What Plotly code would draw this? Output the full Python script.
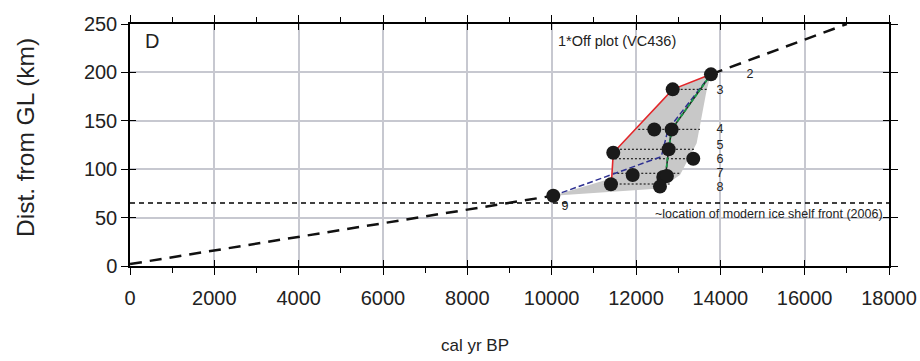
import plotly.graph_objects as go

# ---- data ----
pt_x = [13778, 12870, 12433, 12845, 12774, 11461, 13358, 11921, 12647, 12734, 11406, 12568, 10038]
pt_y = [198, 182.5, 141, 141, 120.6, 117, 110.8, 94, 92, 93, 84.4, 82, 72.6]

hull_x = [10038, 12568, 13043, 13438, 13676, 13778, 12870, 11461, 11423, 10038]
hull_y = [72.6, 80, 94, 126.8, 181.8, 198, 182.5, 117, 90.6, 72.6]

red_x = [13778, 12870, 11461, 11423]
red_y = [198, 182.5, 117, 90]

green_x = [13778, 12845, 12774, 12680]
green_y = [198, 141, 120.6, 85]

blue_x = [10038, 12600, 12760, 13778]
blue_y = [72.6, 113, 141, 198]

trend_lo_x = [0, 10038]
trend_lo_y = [2, 72.6]
trend_hi_x = [13778, 17000]
trend_hi_y = [198, 250]

level_y = [182.5, 141.2, 120.6, 110.8, 95.8, 84.7]
level_x0 = [12870, 12054, 11620, 11501, 11461, 11423]
level_x1 = [13676, 13517, 13399, 13232, 13043, 12805]

label_txt = ["2", "3", "4", "5", "6", "7", "8", "9"]
label_x = [14703, 13991, 13991, 13991, 13991, 13991, 13991, 10315]
label_y = [197, 181, 140.5, 124.5, 110, 95.5, 81, 61]

shelf_y = 65

x_ticks = [0, 2000, 4000, 6000, 8000, 10000, 12000, 14000, 16000, 18000]
x_ticktext = ["0", "2000", "4000", "6000", "8000", "10000", "12000", "14000", "16000", "18000"]
y_ticks = [0, 50, 100, 150, 200, 250]
y_ticktext = ["0", "50", "100", "150", "200", "250"]

FONT = "Liberation Sans, Arial, sans-serif"

fig = go.Figure()

# grey envelope
fig.add_trace(go.Scatter(x=hull_x, y=hull_y, fill="toself", fillcolor="#c8c8c8",
                         line=dict(width=0), mode="lines", hoverinfo="skip", showlegend=False))

# dotted level lines
for y0, xa, xb in zip(level_y, level_x0, level_x1):
    fig.add_trace(go.Scatter(x=[xa, xb], y=[y0, y0], mode="lines",
                             line=dict(color="black", width=1, dash="2px,2px"),
                             showlegend=False, hoverinfo="skip"))

# modern ice-shelf front
fig.add_trace(go.Scatter(x=[0, 18000], y=[shelf_y, shelf_y], mode="lines",
                         line=dict(color="black", width=1.5, dash="5px,4px"),
                         showlegend=False, hoverinfo="skip"))

# blue dashed
fig.add_trace(go.Scatter(x=blue_x, y=blue_y, mode="lines",
                         line=dict(color="#2e3192", width=1.5, dash="6px,3px"),
                         showlegend=False, hoverinfo="skip"))
# red
fig.add_trace(go.Scatter(x=red_x, y=red_y, mode="lines",
                         line=dict(color="#e3262a", width=1.6),
                         showlegend=False, hoverinfo="skip"))
# green (green/black dashed)
fig.add_trace(go.Scatter(x=green_x, y=green_y, mode="lines",
                         line=dict(color="#222222", width=1.6),
                         showlegend=False, hoverinfo="skip"))
fig.add_trace(go.Scatter(x=green_x, y=green_y, mode="lines",
                         line=dict(color="#1a9a48", width=1.8, dash="4px,2px"),
                         showlegend=False, hoverinfo="skip"))

# black dashed trend
for tx, ty in [(trend_lo_x, trend_lo_y), (trend_hi_x, trend_hi_y)]:
    fig.add_trace(go.Scatter(x=tx, y=ty, mode="lines",
                             line=dict(color="#111111", width=2.5, dash="12px,8px"),
                             showlegend=False, hoverinfo="skip"))

# points
fig.add_trace(go.Scatter(x=pt_x, y=pt_y, mode="markers",
                         marker=dict(color="#1a1a1a", size=14, line=dict(width=0)),
                         showlegend=False))

# numbered labels
fig.add_trace(go.Scatter(x=label_x, y=label_y, mode="text", text=label_txt,
                         textfont=dict(family=FONT, size=12.5, color="#222222"),
                         showlegend=False, hoverinfo="skip"))

# invisible trace for overlay axes (inside half of crossing ticks)
fig.add_trace(go.Scatter(x=[0], y=[0], xaxis="x2", yaxis="y2", mode="markers",
                         marker=dict(opacity=0), showlegend=False, hoverinfo="skip"))

axis_common = dict(showline=True, linecolor="black", linewidth=1.5,
                   ticks="outside", tickcolor="black", tickwidth=1.2,
                   mirror="allticks", zeroline=False)

fig.update_layout(
    width=920, height=361,
    margin=dict(l=130, r=31, t=24, b=95, autoexpand=False),
    paper_bgcolor="white", plot_bgcolor="white",
    font=dict(family=FONT, color="#222222"),
    xaxis=dict(range=[0, 18000], tickvals=x_ticks, ticktext=x_ticktext, ticklen=7,
               ticklabelstandoff=6,
               showgrid=True, gridcolor="#c7c8d0", gridwidth=2,
               tickfont=dict(size=20, family=FONT, color="#222222"),
               minor=dict(dtick=1000, ticks="outside", ticklen=5, tickcolor="black",
                          tickwidth=1.2, showgrid=False),
               **axis_common),
    yaxis=dict(range=[0, 250], tickvals=y_ticks, ticktext=y_ticktext, ticklen=7,
               showgrid=True, gridcolor="#c7c8d0", gridwidth=2,
               tickfont=dict(size=20, family=FONT, color="#222222"),
               **axis_common),
    xaxis2=dict(range=[0, 18000], overlaying="x", tickvals=x_ticks, ticks="inside",
                ticklen=6, tickcolor="black", tickwidth=1.2, showticklabels=False,
                showgrid=False, showline=False, zeroline=False, mirror="allticks"),
    yaxis2=dict(range=[0, 250], overlaying="y", tickvals=y_ticks, ticks="inside",
                ticklen=6, tickcolor="black", tickwidth=1.2, showticklabels=False,
                showgrid=False, showline=False, zeroline=False, mirror="allticks"),
)

fig.add_annotation(text="D", xref="paper", yref="paper", x=0.017, y=0.93,
                   xanchor="left", yanchor="middle", showarrow=False,
                   font=dict(size=20, family=FONT, color="#222222"))
fig.add_annotation(text="1*Off plot (VC436)", xref="x", yref="paper", x=10000 + (557 - 553) / 0.04217,
                   y=(266 - 40.5) / 242, xanchor="left", yanchor="middle", showarrow=False,
                   font=dict(size=14.5, family=FONT, color="#222222"))
fig.add_annotation(text="~location of modern ice shelf front (2006)", xref="x", yref="y",
                   x=17900, y=53.5, xanchor="right", yanchor="middle", showarrow=False,
                   font=dict(size=12.5, family=FONT, color="#222222"))
fig.add_annotation(text="cal yr BP", xref="paper", yref="paper",
                   x=(475 - 130) / 759, y=-(345 - 266) / 242, xanchor="center", yanchor="middle",
                   showarrow=False, font=dict(size=17, family=FONT, color="#222222"))
fig.add_annotation(text="Dist. from GL (km)", xref="paper", yref="paper",
                   x=-(130 - 25) / 759, y=(266 - 138) / 242, xanchor="center", yanchor="middle",
                   textangle=-90, showarrow=False,
                   font=dict(size=24.5, family=FONT, color="#222222"))

fig.write_html("out.html", config={"displayModeBar": False},
               post_script="document.body.style.margin='0';")
